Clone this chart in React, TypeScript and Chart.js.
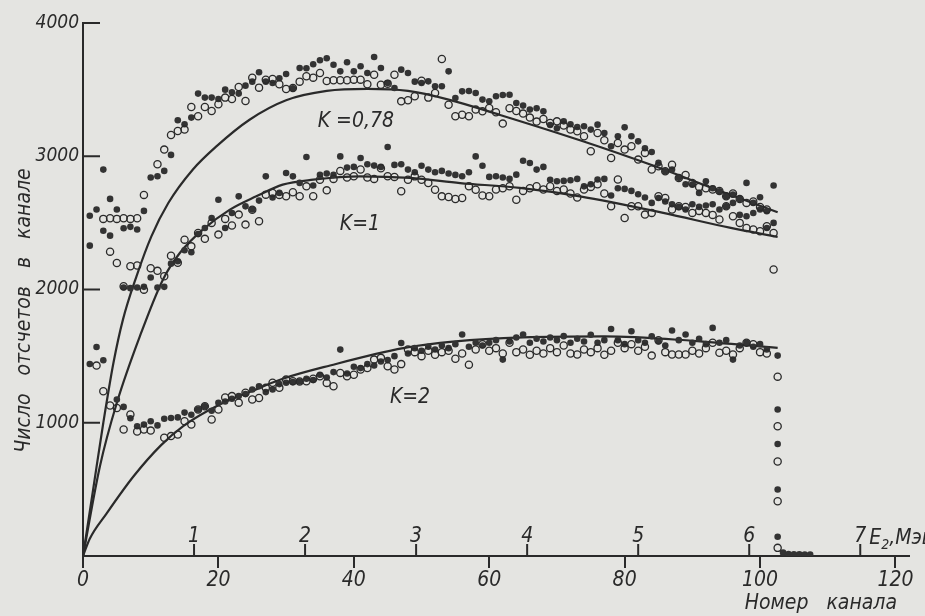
import React, { useEffect, useRef } from "react";
import { Chart, registerables } from "chart.js";

Chart.register(...registerables);

const INK = "#2a2a2a";
const DOT = "#333333";
const PAPER = "#e4e4e1";
const FONT = '"Liberation Sans Narrow", "DejaVu Sans Condensed", "Arial Narrow", sans-serif';

// Axis ticks
const xTickValues = [0, 20, 40, 60, 80, 100, 120];
const yTickValues = [0, 1000, 2000, 3000, 4000];
const mevTicks = [1, 2, 3, 4, 5, 6, 7];
const channelsPerMeV = 16.4;

// Measured spectra: one value per channel (channel = index + 1)
const openK078 = [null, null, 2530, 2535, 2530, 2535, 2530, 2535, 2710, null, 2940, 3050, 3160, 3190, 3200, 3370, 3300, 3370, 3340, 3390, 3440, 3430, 3520, 3415, 3590, 3515, 3575, 3580, 3540, 3505, 3512, 3560, 3600, 3590, 3625, 3565, 3570, 3570, 3570, 3575, 3575, 3540, 3612, 3537, 3545, 3612, 3412, 3420, 3450, 3567, 3440, 3475, 3730, 3387, 3300, 3312, 3300, 3350, 3337, 3362, 3330, 3245, 3361, 3340, 3320, 3290, 3260, 3280, 3250, 3262, 3230, 3200, 3187, 3150, 3037, 3175, 3120, 2987, 3100, 3050, 3075, 2975, 3025, 2900, 2925, 2887, 2937, 2837, 2860, 2800, 2770, 2760, 2750, 2740, 2700, 2720, 2680, 2650, 2660, 2620, 2600, 2150];
const filledK078 = [2554, 2600, 2900, 2680, 2600, 2460, 2470, 2450, 2590, 2840, 2850, 2890, 3010, 3270, 3240, 3290, 3470, 3440, 3440, 3430, 3500, 3480, 3470, 3530, 3560, 3630, 3560, 3550, 3585, 3617, 3510, 3662, 3660, 3690, 3720, 3735, 3687, 3637, 3705, 3637, 3675, 3625, 3745, 3662, 3550, 3512, 3650, 3625, 3560, 3550, 3562, 3525, 3525, 3637, 3437, 3487, 3490, 3475, 3425, 3412, 3450, 3460, 3461, 3400, 3380, 3350, 3360, 3337, 3235, 3210, 3262, 3240, 3220, 3225, 3200, 3237, 3175, 3075, 3150, 3217, 3150, 3112, 3060, 3032, 2950, 2887, 2900, 2838, 2790, 2787, 2725, 2812, 2760, 2737, 2700, 2712, 2680, 2800, 2650, 2692, 2587, 2780];
const openK1 = [null, null, null, 2284, 2199, 2024, 2174, 2180, 1999, 2160, 2140, 2100, 2254, 2200, 2374, 2324, 2424, 2380, 2500, 2412, 2530, 2480, 2562, 2487, 2599, 2512, 2712, 2725, 2710, 2700, 2730, 2700, 2774, 2700, 2824, 2744, 2830, 2890, 2840, 2850, 2900, 2840, 2830, 2910, 2850, 2845, 2737, 2824, 2849, 2824, 2799, 2749, 2699, 2694, 2679, 2687, 2774, 2749, 2705, 2700, 2750, 2760, 2775, 2674, 2740, 2760, 2775, 2750, 2775, 2740, 2750, 2720, 2690, 2750, 2770, 2790, 2720, 2625, 2825, 2537, 2625, 2625, 2562, 2575, 2700, 2687, 2600, 2625, 2620, 2575, 2590, 2575, 2560, 2525, 2625, 2550, 2500, 2462, 2450, 2437, 2475, 2424];
const filledK1 = [2329, null, 2441, 2404, null, 2015, 2010, 2015, 2020, 2090, 2015, 2020, 2194, 2212, 2294, 2279, 2417, 2462, 2537, 2674, 2462, 2574, 2699, 2624, 2600, 2667, 2849, 2690, 2725, 2874, 2849, 2800, 2994, 2780, 2860, 2870, 2860, 2999, 2915, 2920, 2987, 2940, 2930, 2920, 3069, 2935, 2940, 2900, 2880, 2929, 2900, 2880, 2890, 2870, 2860, 2850, 2880, 2999, 2929, 2845, 2850, 2840, 2830, 2862, 2966, 2949, 2900, 2920, 2824, 2812, 2815, 2820, 2830, 2774, 2790, 2825, 2830, 2705, 2760, 2755, 2740, 2715, 2690, 2650, 2687, 2660, 2640, 2620, 2600, 2640, 2620, 2630, 2640, 2600, 2625, 2650, 2560, 2550, 2574, 2600, 2462, 2500];
const openK2 = [null, 1429, 1236, 1129, 1111, 949, 1062, 934, 949, 941, null, 887, 900, 911, 1011, 986, 1100, 1124, 1024, 1100, 1189, 1200, 1151, 1226, 1174, 1186, 1262, 1300, 1262, 1324, 1312, 1310, 1312, 1330, 1349, 1299, 1274, 1374, 1349, 1360, 1400, 1410, 1474, 1487, 1424, 1400, 1440, 1550, 1530, 1500, 1540, 1510, 1530, 1540, 1480, 1520, 1436, 1550, 1590, 1540, 1560, 1520, 1600, 1530, 1550, 1510, 1540, 1520, 1560, 1530, 1580, 1520, 1512, 1550, 1530, 1560, 1510, 1540, 1600, 1560, 1590, 1540, 1570, 1504, 1620, 1530, 1512, 1512, 1512, 1540, 1520, 1560, 1600, 1525, 1540, 1512, 1560, 1600, 1590, 1530, 1520, null];
const filledK2 = [1441, 1569, 1469, null, 1174, 1119, 1034, 974, 986, 1011, 980, 1030, 1036, 1040, 1076, 1060, 1100, 1124, 1090, 1150, 1160, 1180, 1200, 1215, 1249, 1274, 1230, 1250, 1290, 1300, 1305, 1310, 1330, 1320, 1360, 1340, 1380, 1549, 1370, 1420, 1410, 1440, 1430, 1460, 1470, 1500, 1599, 1520, 1560, 1540, 1570, 1550, 1580, 1560, 1590, 1662, 1570, 1600, 1580, 1600, 1620, 1474, 1610, 1640, 1662, 1600, 1630, 1610, 1640, 1620, 1650, 1600, 1630, 1610, 1660, 1600, 1620, 1704, 1620, 1590, 1687, 1620, 1600, 1649, 1610, 1580, 1692, 1620, 1662, 1600, 1630, 1590, 1712, 1600, 1620, 1474, 1580, 1600, 1570, 1590, 1550, null];

// Falling edge at the end of the spectra and the empty channels after it
const edgeChannel = 102.6;
const edgeOpen = [1346, 974, 709, 411, 61];
const edgeFilled = [1504, 1099, 841, 499, 144];
const tailChannels = [103.4, 104.2, 105, 105.8, 106.6, 107.4];
const tailValues = [25, 15, 12, 12, 10, 10];

// Calculated curves
const curveK078Ch = [0, 1.5, 3, 4.5, 5.9, 7.9, 10.1, 12.6, 16.2, 19.7, 24.6, 30, 36, 42, 48, 54, 61.6, 73.4, 84.2, 93, 102.6];
const curveK078Val = [0, 500, 1000, 1450, 1774, 2099, 2399, 2649, 2899, 3074, 3274, 3420, 3490, 3505, 3490, 3425, 3310, 3120, 2930, 2760, 2580];
const curveK1Ch = [0, 2.5, 5, 8.4, 11.8, 14.3, 17.7, 21.7, 25.6, 29.5, 34, 40.9, 48.3, 55.7, 64.5, 73.4, 85.7, 95.5, 102.6];
const curveK1Val = [0, 674, 1150, 1649, 2074, 2274, 2449, 2599, 2699, 2787, 2824, 2849, 2837, 2799, 2762, 2699, 2575, 2464, 2395];
const curveK2Ch = [0, 1, 3.5, 7.5, 11.5, 14.8, 19.7, 24.6, 29.5, 36.5, 47.3, 55, 65, 77, 90, 102.6];
const curveK2Val = [0, 130, 320, 600, 830, 975, 1124, 1230, 1330, 1430, 1560, 1610, 1640, 1648, 1615, 1562];

// Curve labels
const kLabels = ["K =0,78", "K=1", "K=2"];
const kLabelCh = [40.3, 40.9, 48.3];
const kLabelVal = [3259, 2486, 1189];

const byChannel = (vals: (number | null)[]) =>
  vals.map((v, i) => (v == null ? null : { x: i + 1, y: v })).filter(Boolean) as { x: number; y: number }[];
const pairs = (xs: number[], ys: number[]) => xs.map((x, i) => ({ x, y: ys[i] }));

const font = (size: number) => ({ family: FONT, size, style: "italic" as const, weight: "normal" as const });

const overlay = {
  id: "overlay",
  afterDraw(chart: any) {
    const { ctx } = chart;
    const x = chart.scales.x;
    const y = chart.scales.y;
    const y0 = y.getPixelForValue(0);
    ctx.save();
    ctx.strokeStyle = INK;
    ctx.fillStyle = INK;
    ctx.lineWidth = 2;
    // inward y ticks
    yTickValues.forEach((v) => {
      if (v === 0) return;
      const py = y.getPixelForValue(v);
      ctx.beginPath();
      ctx.moveTo(x.left, py);
      ctx.lineTo(x.left + 17, py);
      ctx.stroke();
    });
    // energy scale
    ctx.font = `italic 21px ${FONT}`;
    ctx.textAlign = "center";
    ctx.textBaseline = "alphabetic";
    mevTicks.forEach((e) => {
      const px = x.getPixelForValue(e * channelsPerMeV);
      ctx.beginPath();
      ctx.moveTo(px, y0);
      ctx.lineTo(px, y0 - 12);
      ctx.stroke();
      ctx.fillText(String(e), px, y0 - 14);
    });
    const ux = x.getPixelForValue(7 * channelsPerMeV) + 9;
    ctx.textAlign = "left";
    ctx.fillText("E", ux, y0 - 12);
    let w = ctx.measureText("E").width;
    ctx.font = `italic 14px ${FONT}`;
    ctx.fillText("2", ux + w, y0 - 7);
    w += ctx.measureText("2").width;
    ctx.font = `italic 21px ${FONT}`;
    ctx.fillText(",Мэв", ux + w, y0 - 12);
    // curve labels
    ctx.textAlign = "center";
    ctx.textBaseline = "middle";
    kLabels.forEach((t, i) => {
      ctx.fillText(t, x.getPixelForValue(kLabelCh[i]), y.getPixelForValue(kLabelVal[i]));
    });
    ctx.restore();
  },
};

export default function App() {
  const ref = useRef<HTMLCanvasElement>(null);
  useEffect(() => {
    if (!ref.current) return;
    const openStyle = {
      pointStyle: "circle",
      pointRadius: 3.6,
      pointBorderWidth: 1.3,
      pointBorderColor: INK,
      pointBackgroundColor: "rgba(0,0,0,0)",
      showLine: false,
    };
    const filledStyle = {
      pointStyle: "circle",
      pointRadius: 3.3,
      pointBorderWidth: 0,
      pointBorderColor: DOT,
      pointBackgroundColor: DOT,
      showLine: false,
    };
    const curveStyle = {
      showLine: true,
      pointRadius: 0,
      borderColor: INK,
      borderWidth: 2.2,
      cubicInterpolationMode: "monotone",
      fill: false,
    };
    const chart = new Chart(ref.current, {
      type: "scatter",
      data: {
        datasets: [
          { label: "K=0.78 open", data: byChannel(openK078), ...openStyle },
          { label: "K=0.78 filled", data: byChannel(filledK078), ...filledStyle },
          { label: "K=1 open", data: byChannel(openK1), ...openStyle },
          { label: "K=1 filled", data: byChannel(filledK1), ...filledStyle },
          { label: "K=2 open", data: byChannel(openK2), ...openStyle },
          { label: "K=2 filled", data: byChannel(filledK2), ...filledStyle },
          { label: "edge open", data: edgeOpen.map((v) => ({ x: edgeChannel, y: v })), ...openStyle },
          { label: "edge filled", data: edgeFilled.map((v) => ({ x: edgeChannel, y: v })), ...filledStyle },
          { label: "tail", data: pairs(tailChannels, tailValues), ...filledStyle },
          { label: "K=0.78", data: pairs(curveK078Ch, curveK078Val), ...curveStyle },
          { label: "K=1", data: pairs(curveK1Ch, curveK1Val), ...curveStyle },
          { label: "K=2", data: pairs(curveK2Ch, curveK2Val), ...curveStyle },
        ] as any,
      },
      options: {
        animation: false,
        responsive: false,
        maintainAspectRatio: false,
        layout: { padding: { left: 0, right: 16, top: 23, bottom: 0 } },
        plugins: { legend: { display: false }, tooltip: { enabled: false } },
        scales: {
          x: {
            type: "linear",
            min: 0,
            max: 122,
            afterBuildTicks: (s: any) => {
              s.ticks = xTickValues.map((v) => ({ value: v }));
            },
            afterFit: (s: any) => {
              s.height = 60;
            },
            grid: { drawOnChartArea: false, drawTicks: true, tickLength: 12, color: INK, lineWidth: 2 },
            border: { display: true, color: INK, width: 2 },
            ticks: { color: INK, font: font(21), padding: 0, maxRotation: 0, autoSkip: false, callback: (v: any) => String(v) },
            title: { display: true, text: "Номер   канала  ", align: "end", color: INK, font: font(21), padding: { top: 0, bottom: 0 } },
          },
          y: {
            type: "linear",
            min: 0,
            max: 4000,
            afterBuildTicks: (s: any) => {
              s.ticks = yTickValues.map((v) => ({ value: v }));
            },
            afterFit: (s: any) => {
              s.width = 83;
            },
            grid: { drawOnChartArea: false, drawTicks: false },
            border: { display: true, color: INK, width: 2 },
            ticks: { color: INK, font: font(19), padding: 4, callback: (v: any) => (v === 0 ? "" : String(v)) },
            title: { display: true, text: "Число   отсчетов   в   канале       ", color: INK, font: font(21), padding: { top: 12, bottom: 0 } },
          },
        },
      } as any,
      plugins: [overlay],
    });
    return () => chart.destroy();
  }, []);
  return (
    <div style={{ position: "fixed", left: 0, top: 0, width: 925, height: 616, background: PAPER }}>
      <canvas ref={ref} width={925} height={616} style={{ display: "block", width: 925, height: 616 }} />
    </div>
  );
}
